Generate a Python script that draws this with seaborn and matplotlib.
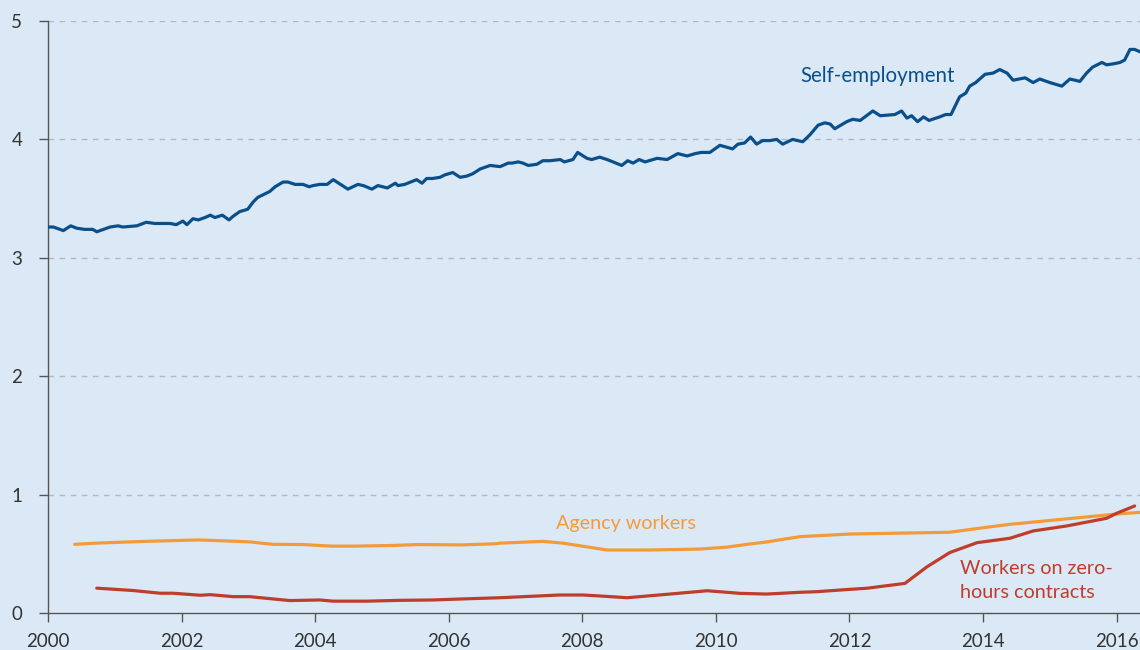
import numpy as np
import pandas as pd
import matplotlib
matplotlib.use("Agg")
import matplotlib.pyplot as plt
import seaborn as sns

# ---------------- data ----------------
se_year = [2000.00, 2000.08, 2000.23, 2000.34, 2000.43, 2000.55, 2000.67, 2000.73, 2000.93, 2001.05,
           2001.12, 2001.33, 2001.47, 2001.60, 2001.71, 2001.83, 2001.92, 2002.02, 2002.08, 2002.17,
           2002.25, 2002.35, 2002.43, 2002.50, 2002.61, 2002.71, 2002.77, 2002.87, 2002.99, 2003.07,
           2003.14, 2003.32, 2003.40, 2003.52, 2003.59, 2003.70, 2003.82, 2003.91, 2003.97, 2004.07,
           2004.18, 2004.27, 2004.49, 2004.64, 2004.72, 2004.85, 2004.94, 2005.08, 2005.20, 2005.24,
           2005.34, 2005.52, 2005.60, 2005.67, 2005.76, 2005.87, 2005.94, 2006.06, 2006.17, 2006.27,
           2006.36, 2006.47, 2006.62, 2006.77, 2006.89, 2006.95, 2007.04, 2007.11, 2007.19, 2007.32,
           2007.41, 2007.52, 2007.67, 2007.73, 2007.86, 2007.93, 2008.07, 2008.14, 2008.26, 2008.37,
           2008.46, 2008.59, 2008.68, 2008.76, 2008.85, 2008.94, 2009.12, 2009.27, 2009.43, 2009.57,
           2009.69, 2009.78, 2009.91, 2010.06, 2010.25, 2010.33, 2010.43, 2010.52, 2010.61, 2010.70,
           2010.81, 2010.91, 2011.00, 2011.15, 2011.30, 2011.41, 2011.53, 2011.63, 2011.71, 2011.78,
           2011.96, 2012.05, 2012.16, 2012.35, 2012.46, 2012.68, 2012.78, 2012.86, 2012.93, 2013.02,
           2013.11, 2013.19, 2013.35, 2013.44, 2013.52, 2013.65, 2013.74, 2013.80, 2013.89, 2014.03,
           2014.15, 2014.25, 2014.36, 2014.45, 2014.63, 2014.75, 2014.85, 2015.00, 2015.18, 2015.30,
           2015.45, 2015.55, 2015.64, 2015.78, 2015.85, 2015.97, 2016.05, 2016.12, 2016.20, 2016.27,
           2016.35]
se_value = [3.26, 3.26, 3.23, 3.27, 3.25, 3.24, 3.24, 3.22, 3.26, 3.27,
            3.26, 3.27, 3.30, 3.29, 3.29, 3.29, 3.28, 3.31, 3.28, 3.33,
            3.32, 3.34, 3.36, 3.34, 3.36, 3.32, 3.35, 3.39, 3.41, 3.47,
            3.51, 3.56, 3.60, 3.64, 3.64, 3.62, 3.62, 3.60, 3.61, 3.62,
            3.62, 3.66, 3.58, 3.62, 3.61, 3.58, 3.61, 3.59, 3.63, 3.61,
            3.62, 3.66, 3.63, 3.67, 3.67, 3.68, 3.70, 3.72, 3.68, 3.69,
            3.71, 3.75, 3.78, 3.77, 3.80, 3.80, 3.81, 3.80, 3.78, 3.79,
            3.82, 3.82, 3.83, 3.81, 3.83, 3.89, 3.84, 3.83, 3.85, 3.83,
            3.81, 3.78, 3.82, 3.80, 3.83, 3.81, 3.84, 3.83, 3.88, 3.86,
            3.88, 3.89, 3.89, 3.95, 3.92, 3.96, 3.97, 4.02, 3.96, 3.99,
            3.99, 4.00, 3.96, 4.00, 3.98, 4.04, 4.12, 4.14, 4.13, 4.09,
            4.15, 4.17, 4.16, 4.24, 4.20, 4.21, 4.24, 4.18, 4.20, 4.15,
            4.19, 4.16, 4.19, 4.21, 4.21, 4.36, 4.39, 4.45, 4.48, 4.55,
            4.56, 4.59, 4.56, 4.50, 4.52, 4.48, 4.51, 4.48, 4.45, 4.51,
            4.49, 4.56, 4.61, 4.65, 4.63, 4.64, 4.65, 4.67, 4.76, 4.76,
            4.74]

agency_year = [2000.40, 2000.72, 2001.45, 2002.25, 2002.71, 2003.04, 2003.19, 2003.37, 2003.82, 2004.24,
               2004.61, 2005.13, 2005.55, 2006.18, 2006.71, 2006.77, 2007.41, 2007.71, 2008.37, 2009.01,
               2009.76, 2010.16, 2010.51, 2010.76, 2011.26, 2012.01, 2013.50, 2014.00, 2014.40, 2014.81,
               2015.49, 2016.00, 2016.35]
agency_value = [0.58, 0.59, 0.605, 0.617, 0.608, 0.60, 0.59, 0.58, 0.578, 0.565,
                0.565, 0.57, 0.578, 0.575, 0.585, 0.59, 0.605, 0.59, 0.532, 0.532,
                0.54, 0.556, 0.583, 0.60, 0.645, 0.667, 0.682, 0.72, 0.749, 0.771,
                0.808, 0.836, 0.85]

zh_year = [2000.73, 2001.27, 2001.68, 2001.87, 2002.28, 2002.43, 2002.77, 2003.02, 2003.62, 2004.07,
           2004.27, 2004.52, 2004.78, 2005.27, 2005.76, 2006.27, 2006.77, 2007.66, 2008.01, 2008.26,
           2008.67, 2009.27, 2009.87, 2010.36, 2010.76, 2011.26, 2011.51, 2012.01, 2012.26, 2012.83,
           2013.16, 2013.50, 2013.91, 2014.40, 2014.75, 2015.25, 2015.85, 2016.00, 2016.27]
zh_value = [0.21, 0.19, 0.167, 0.167, 0.15, 0.155, 0.138, 0.138, 0.105, 0.11,
            0.10, 0.10, 0.10, 0.107, 0.11, 0.12, 0.129, 0.152, 0.152, 0.144,
            0.129, 0.158, 0.188, 0.166, 0.16, 0.175, 0.18, 0.20, 0.209, 0.25,
            0.39, 0.51, 0.594, 0.631, 0.693, 0.735, 0.80, 0.842, 0.904]

x_ticks = [2000, 2002, 2004, 2006, 2008, 2010, 2012, 2014, 2016]
y_ticks = [0, 1, 2, 3, 4, 5]

# ---------------- style ----------------
BG = "#dbe9f6"
BLUE = "#0b4f8a"
ORANGE = "#f39b3a"
RED = "#be3d2b"
AXIS = "#555555"
TEXT = "#333333"

sns.set_theme(style="white")
plt.rcParams["font.family"] = ["Lato", "DejaVu Sans"]

fig = plt.figure(figsize=(11.4, 6.5), dpi=100)
fig.patch.set_facecolor(BG)
ax = fig.add_axes([48 / 1140, 37 / 650, 1 - 48 / 1140, 592 / 650])
ax.set_facecolor(BG)

se_df = pd.DataFrame({"year": se_year, "value": se_value})
ag_df = pd.DataFrame({"year": agency_year, "value": agency_value})
zh_df = pd.DataFrame({"year": zh_year, "value": zh_value})

sns.lineplot(data=se_df, x="year", y="value", ax=ax, color=BLUE, linewidth=2.3, zorder=3)
sns.lineplot(data=ag_df, x="year", y="value", ax=ax, color=ORANGE, linewidth=2.3, zorder=3)
sns.lineplot(data=zh_df, x="year", y="value", ax=ax, color=RED, linewidth=2.3, zorder=4)

ax.set_xlim(2000, 2016.35)
ax.set_ylim(0, 5)
ax.set_xticks(x_ticks)
ax.set_xticklabels([str(t) for t in x_ticks])
ax.set_yticks(y_ticks)
ax.set_yticklabels([str(t) for t in y_ticks])
ax.set_xlabel("")
ax.set_ylabel("")

for yv in y_ticks[1:]:
    ax.axhline(yv, color="#b4b8bd", linewidth=1.0, linestyle=(0, (4, 4)), zorder=1)

for s in ["top", "right"]:
    ax.spines[s].set_visible(False)
for s in ["left", "bottom"]:
    ax.spines[s].set_color(AXIS)
    ax.spines[s].set_linewidth(1.0)

ax.tick_params(axis="both", which="major", direction="out", length=6.5, width=1.0,
               color=AXIS, labelcolor=TEXT, labelsize=13.5)
ax.tick_params(axis="y", pad=12)
ax.tick_params(axis="x", pad=8)
ax.tick_params(bottom=True, left=True)

ax.text(2011.27, 4.535, "Self-employment", color=BLUE, fontsize=14.8, ha="left", va="center")
ax.text(2007.60, 0.76, "Agency workers", color=ORANGE, fontsize=14.2, ha="left", va="center")
ax.text(2013.65, 0.275, "Workers on zero-\nhours contracts", color=RED, fontsize=14.2,
        ha="left", va="center", linespacing=1.55)

fig.savefig("out.png", dpi=100, facecolor=BG)
